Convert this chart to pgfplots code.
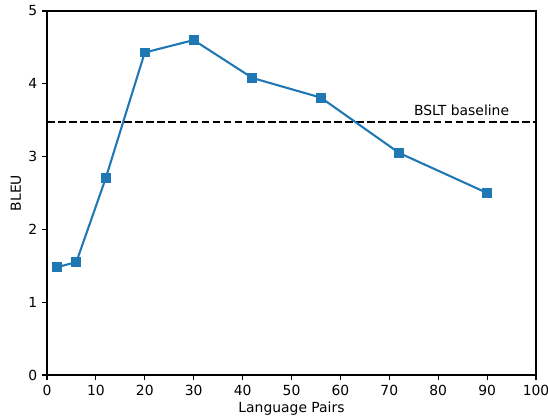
\documentclass[border=0pt]{standalone}
\usepackage{fontspec}
\setmainfont{DejaVu Sans}
\usepackage{pgfplots}
\pgfplotsset{compat=1.18}
\definecolor{tabblue}{HTML}{1F77B4}
\begin{document}
\begin{tikzpicture}
\begin{axis}[
  anchor=south west, at={(0,0)},
  scale only axis,
  width=352pt, height=262pt,
  xmin=0, xmax=100, ymin=0, ymax=5,
  xtick={0,10,...,100}, ytick={0,1,...,5},
  tick align=outside, tick pos=left,
  major tick length=3.5pt,
  tick style={black, line width=0.8pt},
  axis line style={line width=0.8pt},
  /pgf/number format/assume math mode=true,
  ticklabel style={font=\fontsize{10}{12}\selectfont, text=black},
  label style={font=\fontsize{10}{12}\selectfont},
  xlabel={Language Pairs}, ylabel={BLEU},
  xlabel style={at={(axis description cs:0.5,-0.0935)}, anchor=center},
  ylabel style={at={(axis description cs:-0.0633,0.5)}, anchor=center},
  clip=false,
]
\addplot[black, line width=1.5pt, dash pattern=on 5.55pt off 2.4pt, forget plot] coordinates {(0,3.475) (100,3.475)};
\addplot[tabblue, line width=1.5pt, mark=square*, mark size=3.2pt, mark options={solid, fill=tabblue, draw=tabblue, line width=0pt}] coordinates {
(2,1.48) (6,1.55) (12,2.70) (20,4.43) (30,4.60) (42,4.08) (56,3.81) (72,3.05) (90,2.50)
};
\node[anchor=base west, inner sep=0pt, font=\fontsize{10}{12}\selectfont] at (axis cs:75,3.57) {BSLT baseline};
\end{axis}
\pgfresetboundingbox
\useasboundingbox (-33.8pt,-31.7pt) rectangle (360.6pt,269.9pt);
\end{tikzpicture}
\end{document}
